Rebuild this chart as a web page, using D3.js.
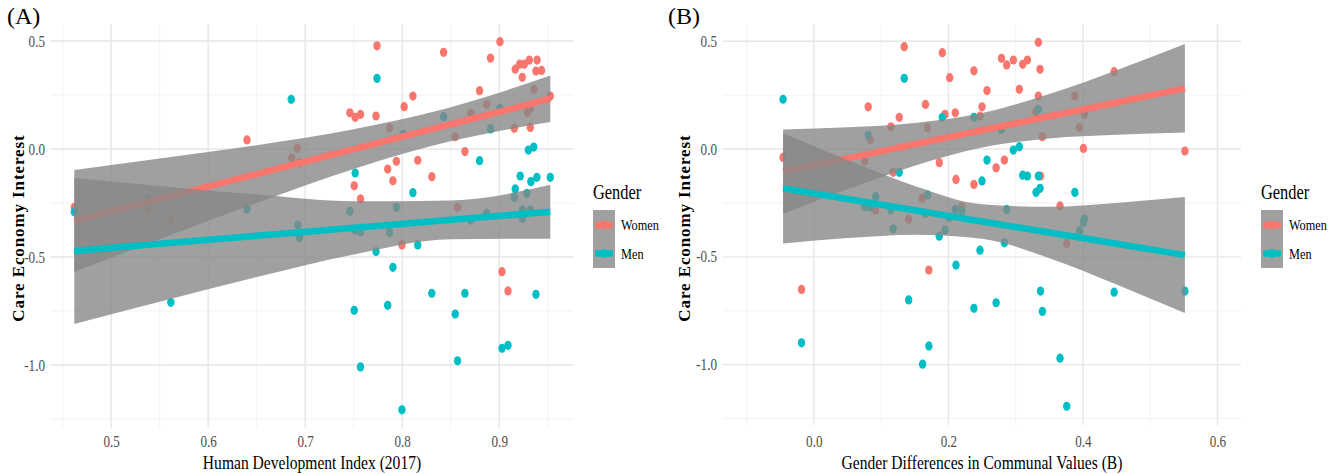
<!DOCTYPE html>
<html>
<head>
<meta charset="utf-8">
<script src="https://d3js.org/d3.v7.min.js"></script>
<style>
  html, body { margin: 0; padding: 0; background: #fff; }
  svg { display: block; font-family: "Liberation Serif", "Times New Roman", serif; }
</style>
</head>
<body>
<svg id="chart" width="1336" height="474"></svg>
<script>
// ---- data ----
var genders = ["Women", "Men"];
var colors = ["#F8766D", "#00BFC4"];

// panel A: Human Development Index (2017) vs care economy interest
var aWomen = [[0.462,-0.27],[0.538,-0.285],[0.5615,-0.333],[0.640,0.042],[0.686,-0.042],[0.692,0.003],[0.694,-0.063],
  [0.746,0.168],[0.7515,0.147],[0.757,0.16],[0.773,0.153],[0.774,0.478],[0.787,0.099],[0.802,0.196],[0.811,0.245],
  [0.8426,0.448],[0.8797,0.27],[0.887,0.207],[0.891,0.421],[0.9007,0.497],[0.8707,0.165],[0.8546,0.057],[0.8646,-0.012],
  [0.9165,0.37],[0.921,0.393],[0.9258,0.393],[0.931,0.412],[0.939,0.412],[0.9237,0.332],[0.9378,0.361],[0.9436,0.364],
  [0.9358,0.276],[0.932,0.188],[0.929,0.17],[0.9526,0.245],[0.9155,0.096],[0.932,0.1],[0.785,-0.093],[0.794,-0.057],
  [0.816,-0.052],[0.7904,-0.147],[0.7505,-0.17],[0.8305,-0.128],[0.757,-0.231],[0.857,-0.27],[0.7997,-0.444],
  [0.9028,-0.568],[0.909,-0.657]];
var aMen = [[0.462,-0.29],[0.538,-0.23],[0.5615,-0.71],[0.640,-0.278],[0.6856,0.23],[0.6925,-0.352],[0.694,-0.41],
  [0.774,0.327],[0.801,0.068],[0.8426,0.15],[0.891,0.093],[0.9007,0.188],[0.8797,-0.054],[0.7515,-0.111],[0.811,-0.202],
  [0.930,-0.005],[0.9355,0.009],[0.9216,-0.125],[0.9326,-0.151],[0.9388,-0.131],[0.9526,-0.131],[0.9165,-0.185],
  [0.9155,-0.224],[0.9285,-0.205],[0.924,-0.282],[0.924,-0.321],[0.932,-0.282],[0.887,-0.298],[0.8707,-0.329],
  [0.794,-0.27],[0.746,-0.288],[0.7515,-0.375],[0.757,-0.383],[0.787,-0.387],[0.816,-0.444],[0.773,-0.475],
  [0.7904,-0.548],[0.8305,-0.668],[0.8646,-0.668],[0.9378,-0.673],[0.7505,-0.747],[0.785,-0.724],[0.8546,-0.764],
  [0.9028,-0.923],[0.909,-0.909],[0.757,-1.009],[0.857,-0.981],[0.7997,-1.208]];
// fitted lines and confidence bands: [x, fit, lower, upper]
var aWomenFit = [[0.462,-0.333,-0.569,-0.097],[0.55,-0.231,-0.418,-0.044],[0.65,-0.116,-0.250,0.018],
  [0.75,0.0,-0.092,0.092],[0.83,0.092,0.014,0.170],[0.9,0.172,0.083,0.261],[0.9526,0.233,0.125,0.341]];
var aMenFit = [[0.462,-0.472,-0.81,-0.134],[0.55,-0.439,-0.707,-0.171],[0.65,-0.402,-0.593,-0.211],
  [0.75,-0.365,-0.488,-0.242],[0.85,-0.328,-0.418,-0.238],[0.9526,-0.29,-0.415,-0.165]];

// panel B: gender differences in communal values vs care economy interest
var bWomen = [[-0.0457,-0.039],[0.1344,0.475],[0.191,0.447],[0.202,0.331],[0.238,0.363],[0.2574,0.271],[0.0808,0.196],
  [0.127,0.147],[0.166,0.207],[0.195,0.161],[0.2103,0.168],[0.25,0.196],[0.247,0.153],[0.1146,0.103],[0.169,0.099],
  [0.0838,0.042],[0.0754,-0.056],[0.1865,-0.063],[0.271,-0.087],[0.2113,-0.141],[0.238,-0.164],[0.118,-0.108],
  [0.161,-0.229],[0.092,-0.283],[0.141,-0.326],[0.22,-0.268],[0.171,-0.561],[-0.0183,-0.651],[0.3338,0.495],
  [0.279,0.421],[0.2867,0.39],[0.2966,0.413],[0.3105,0.393],[0.3175,0.413],[0.3363,0.37],[0.4464,0.359],
  [0.3055,0.277],[0.3338,0.246],[0.388,0.246],[0.33,0.173],[0.4023,0.161],[0.3948,0.1],[0.3398,0.057],
  [0.4008,0.003],[0.5516,-0.009],[0.2833,-0.051],[0.337,-0.125],[0.366,-0.264],[0.376,-0.438]];
var bMen = [[-0.0457,0.231],[0.1344,0.328],[0.191,0.147],[0.238,0.147],[0.0808,0.065],[0.2574,-0.051],[0.25,-0.148],
  [0.127,-0.108],[0.092,-0.221],[0.169,-0.213],[0.0754,-0.268],[0.0838,-0.27],[0.1146,-0.283],[0.166,-0.298],
  [0.2103,-0.28],[0.22,-0.286],[0.2014,-0.317],[0.118,-0.37],[0.195,-0.376],[0.1865,-0.404],[0.247,-0.469],
  [0.2113,-0.538],[0.141,-0.70],[0.238,-0.739],[0.271,-0.713],[-0.0183,-0.899],[0.171,-0.913],[0.1617,-0.998],
  [0.3338,0.184],[0.279,0.091],[0.2966,-0.005],[0.3055,0.011],[0.3105,-0.121],[0.3175,-0.125],[0.3338,-0.125],
  [0.3363,-0.182],[0.3304,-0.201],[0.388,-0.201],[0.2867,-0.28],[0.4023,-0.325],[0.4008,-0.342],[0.3948,-0.38],
  [0.2833,-0.435],[0.337,-0.659],[0.4464,-0.664],[0.5516,-0.659],[0.3398,-0.753],[0.366,-0.97],[0.376,-1.193]];
var bWomenFit = [[-0.0457,-0.105,-0.301,0.091],[0.05,-0.043,-0.187,0.101],[0.15,0.022,-0.077,0.121],
  [0.25,0.087,0.007,0.167],[0.35,0.152,0.049,0.255],[0.45,0.216,0.066,0.366],[0.5516,0.282,0.077,0.487]];
var bMenFit = [[-0.0457,-0.182,-0.438,0.074],[0.05,-0.232,-0.413,-0.051],[0.15,-0.284,-0.397,-0.171],
  [0.25,-0.336,-0.416,-0.256],[0.35,-0.387,-0.506,-0.268],[0.45,-0.439,-0.628,-0.250],[0.5516,-0.492,-0.761,-0.223]];

// ticks
var yTicks = [-1.0, -0.5, 0.0, 0.5];
var yMinor = [-1.25, -0.75, -0.25, 0.25];
var aXTicks = [0.5, 0.6, 0.7, 0.8, 0.9];
var aXMinor = [0.45, 0.55, 0.65, 0.75, 0.85, 0.95];
var bXTicks = [0.0, 0.2, 0.4, 0.6];
var bXMinor = [-0.1, 0.1, 0.3, 0.5];

// ggplot prints a plain hyphen for negatives
var fmt = function(d) { return d.toFixed(1); };

var panels = [
  { tag: "(A)", tagX: 7, xDomain: [0.438, 0.976], xRange: [51, 573], yDomain: [-1.292, 0.579], yRange: [428, 24],
    xTicks: aXTicks, xMinor: aXMinor,
    xTitle: "Human Development Index (2017)", yTitleX: 18, legendX: 593,
    points: [aWomen, aMen], fits: [aWomenFit, aMenFit] },
  { tag: "(B)", tagX: 668, xDomain: [-0.135, 0.635], xRange: [723, 1241], yDomain: [-1.28, 0.58], yRange: [425, 24],
    xTicks: bXTicks, xMinor: bXMinor,
    xTitle: "Gender Differences in Communal Values (B)", yTitleX: 684, legendX: 1261,
    points: [bWomen, bMen], fits: [bWomenFit, bMenFit] }
];

var svg = d3.select("#chart");
var squeeze = 0.82;
var bandFill = "#878787", bandAlpha = 0.79;

function squeezed(g, x, y, txt, size, anchor) {
  return g.append("text")
    .attr("transform", "translate(" + x + "," + y + ") scale(" + squeeze + ",1)")
    .attr("text-anchor", anchor || "start")
    .attr("font-size", size)
    .text(txt);
}

panels.forEach(function(p) {
  var x = d3.scaleLinear().domain(p.xDomain).range(p.xRange);
  var y = d3.scaleLinear().domain(p.yDomain).range(p.yRange);
  var g = svg.append("g");

  // grid
  var grid = g.append("g");
  grid.selectAll(".vmin").data(p.xMinor).enter().append("line")
    .attr("x1", x).attr("x2", x).attr("y1", p.yRange[1]).attr("y2", p.yRange[0])
    .attr("stroke", "#efefef").attr("stroke-width", 0.8);
  grid.selectAll(".hmin").data(yMinor).enter().append("line")
    .attr("y1", y).attr("y2", y).attr("x1", p.xRange[0]).attr("x2", p.xRange[1])
    .attr("stroke", "#efefef").attr("stroke-width", 0.8);
  grid.selectAll(".vmaj").data(p.xTicks).enter().append("line")
    .attr("x1", x).attr("x2", x).attr("y1", p.yRange[1]).attr("y2", p.yRange[0])
    .attr("stroke", "#e6e6e6").attr("stroke-width", 1.4);
  grid.selectAll(".hmaj").data(yTicks).enter().append("line")
    .attr("y1", y).attr("y2", y).attr("x1", p.xRange[0]).attr("x2", p.xRange[1])
    .attr("stroke", "#e6e6e6").attr("stroke-width", 1.4);

  // axes (labels only)
  var xa = g.append("g").attr("transform", "translate(0,428)")
    .call(d3.axisBottom(x).tickValues(p.xTicks).tickFormat(fmt).tickSize(0).tickPadding(8));
  var ya = g.append("g").attr("transform", "translate(" + (p.xRange[0] - 5) + ",0)")
    .call(d3.axisLeft(y).tickValues(yTicks).tickFormat(fmt).tickSize(0).tickPadding(0));
  [xa, ya].forEach(function(a) {
    a.select(".domain").remove();
    a.selectAll("text").attr("font-family", "Liberation Serif").attr("font-size", 16)
      .attr("fill", "#4d4d4d").attr("transform", "scale(" + squeeze + ",1)");
  });
  ya.selectAll("text").attr("x", -1 / squeeze);

  // points
  p.points.forEach(function(pts, i) {
    g.append("g").selectAll("ellipse").data(pts).enter().append("ellipse")
      .attr("cx", function(d) { return x(d[0]); })
      .attr("cy", function(d) { return y(d[1]); })
      .attr("rx", 3.7).attr("ry", 4.6)
      .attr("fill", colors[i]);
  });

  // smooths: band then line, Women first
  var area = d3.area().curve(d3.curveMonotoneX)
    .x(function(d) { return x(d[0]); })
    .y0(function(d) { return y(d[2]); })
    .y1(function(d) { return y(d[3]); });
  var line = d3.line().curve(d3.curveMonotoneX)
    .x(function(d) { return x(d[0]); })
    .y(function(d) { return y(d[1]); });
  p.fits.forEach(function(f, i) {
    g.append("path").attr("d", area(f)).attr("fill", bandFill).attr("fill-opacity", bandAlpha);
    g.append("path").attr("d", line(f)).attr("fill", "none")
      .attr("stroke", colors[i]).attr("stroke-width", 6.5);
  });

  // titles
  squeezed(g, 0, 0, p.tag, 24).attr("transform", "translate(" + p.tagX + ",24)");
  squeezed(g, (p.xRange[0] + p.xRange[1]) / 2, 469, p.xTitle, 19, "middle")
    .attr("fill", "#000");
  g.append("text")
    .attr("transform", "translate(" + (p.yTitleX + 6) + ",228) rotate(-90)")
    .attr("text-anchor", "middle").attr("font-size", 17).attr("font-weight", "bold")
    .attr("letter-spacing", 0.9)
    .text("Care Economy Interest");

  // legend
  var lg = g.append("g").attr("transform", "translate(" + p.legendX + ",0)");
  squeezed(lg, 0, 199, "Gender", 20);
  lg.append("rect").attr("x", 0).attr("y", 210).attr("width", 22).attr("height", 58)
    .attr("fill", bandFill).attr("fill-opacity", bandAlpha);
  genders.forEach(function(gname, i) {
    var ky = 225 + i * 28.5;
    lg.append("line").attr("x1", 2).attr("x2", 20).attr("y1", ky).attr("y2", ky)
      .attr("stroke", colors[i]).attr("stroke-width", 6.5);
    lg.append("ellipse").attr("cx", 11).attr("cy", ky).attr("rx", 3.7).attr("ry", 4.6).attr("fill", colors[i]);
    squeezed(lg, 28, ky + 5, gname, 15);
  });
});
</script>
</body>
</html>
